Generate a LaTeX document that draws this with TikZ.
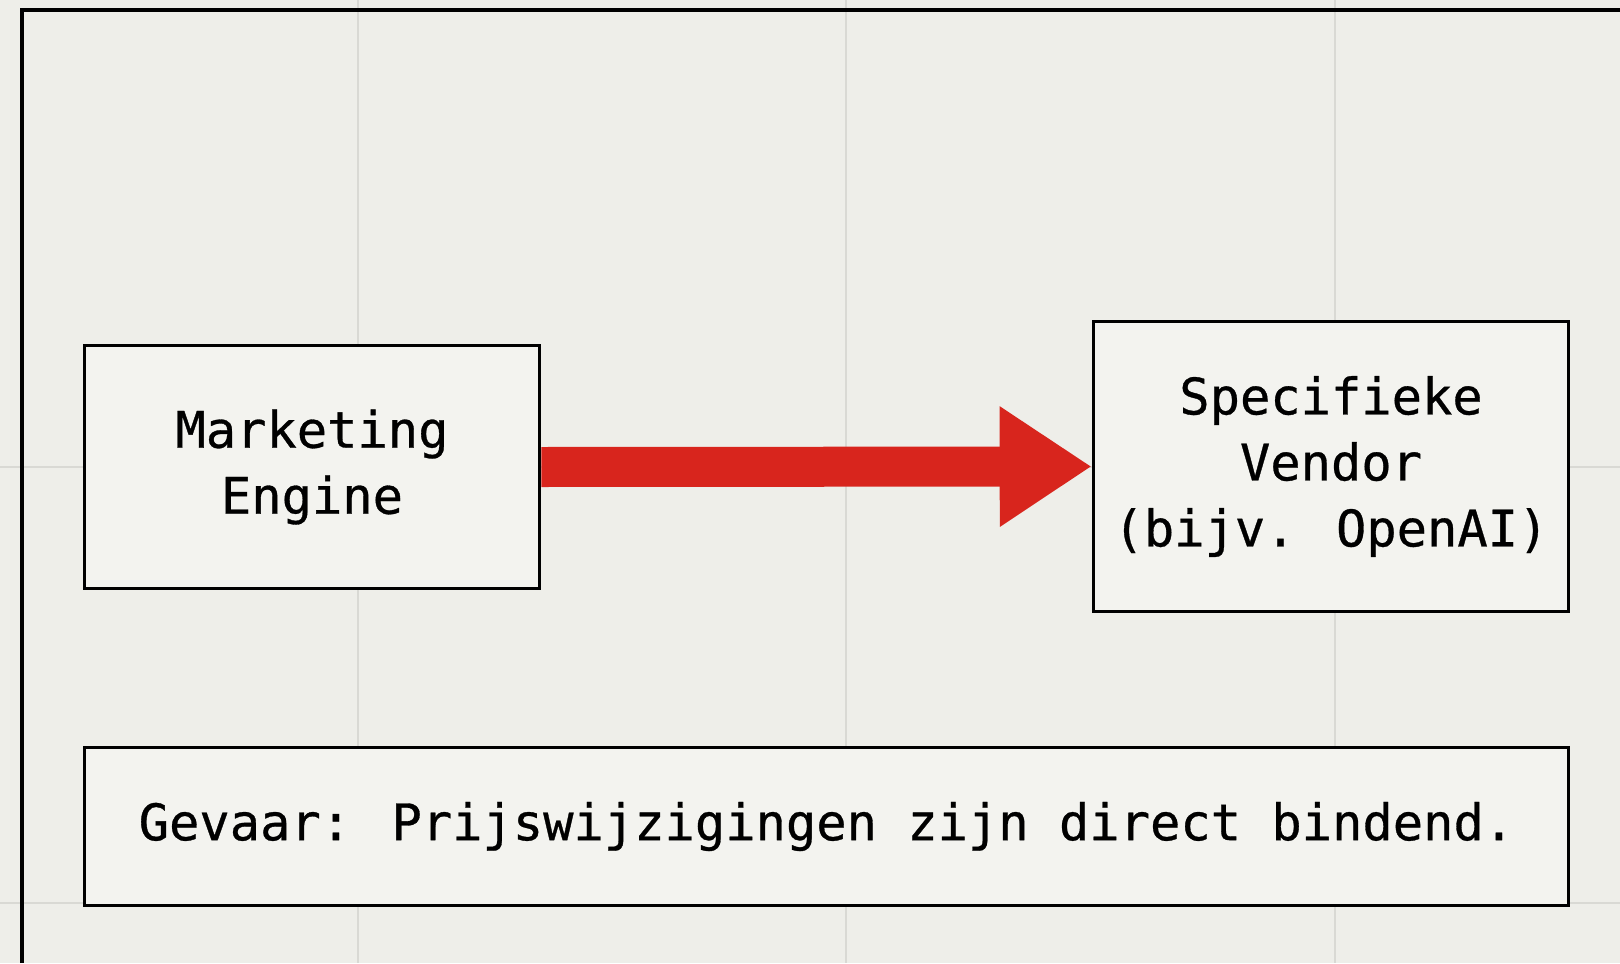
\documentclass[tikz,border=0pt]{standalone}
\usepackage{fontspec}
\usepackage{xcolor}
\newfontfamily\labelfont[FakeBold=0.6]{DejaVu Sans Mono}
\usetikzlibrary{arrows.meta,positioning}
\definecolor{paper}{HTML}{EEEEE9}
\definecolor{boxfill}{HTML}{F3F3EF}
\definecolor{gridgrey}{HTML}{D9D9D4}
\definecolor{alarmred}{HTML}{D8251D}
\begin{document}
\begin{tikzpicture}[x=0.5pt,y=-0.5pt,
	box/.style={draw=black,fill=boxfill,line width=1.8pt,inner sep=0pt,align=center,
		font=\labelfont\fontsize{25.2pt}{33pt}\selectfont},
	flow/.style={draw=alarmred,line width=20pt,-{Triangle[length=46pt,width=57pt]}}]
	\useasboundingbox (0,0) rectangle (1620,963);
	\fill [paper] (0,0) rectangle (1620,963);
	% faint grid
	\foreach \gx in {358,846,1335}
		\draw [gridgrey,line width=1pt] (\gx,0) -- (\gx,963);
	\foreach \gy in {467,903}
		\draw [gridgrey,line width=1pt] (0,\gy) -- (1620,\gy);
	\draw [black,line width=2.2pt] (22,963) -- (22,10) -- (1620,10);
	\node [box,minimum width=227.5pt,minimum height=121.5pt] (engine) at (312,467) {Marketing\\Engine};
	\node [box,minimum width=237.5pt,minimum height=145pt] (vendor) at (1331,466.5) {Specifieke\\Vendor\\(bijv. OpenAI)};
	\node [box,minimum width=742pt,minimum height=79pt] (danger) at (826.5,826.5) {Gevaar: Prijswijzigingen zijn direct bindend.};
	\draw [flow] (engine.east) -- (vendor.west);
\end{tikzpicture}
\end{document}
